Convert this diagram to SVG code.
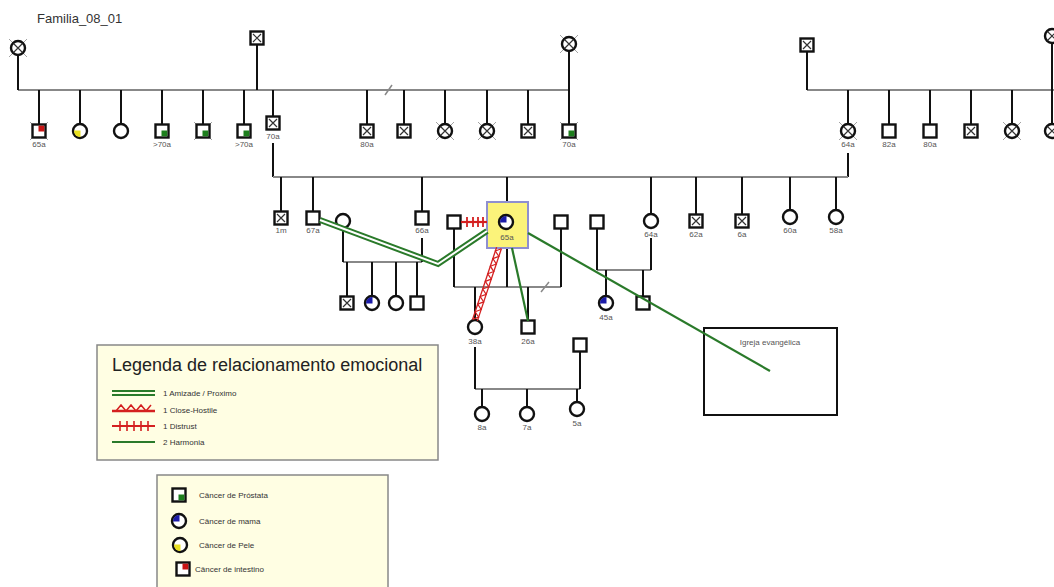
<svg xmlns="http://www.w3.org/2000/svg" xmlns:xlink="http://www.w3.org/1999/xlink" width="1054" height="587" viewBox="0 0 1054 587">
<style>
.sh{fill:#fff;stroke:#111;stroke-width:2.4}
.xx{stroke:#333;stroke-width:1.2;fill:none}
.dec{stroke:#999;stroke-width:0.9;fill:none}
.h{stroke:#888;stroke-width:2;fill:none}
.v{stroke:#111;stroke-width:2;fill:none}
.lb{font-family:"Liberation Sans",Arial,sans-serif;font-size:8px;fill:#555;text-anchor:middle}
.lt{font-family:"Liberation Sans",Arial,sans-serif;font-size:8px;fill:#333}
.gr1{stroke:#2a7a2a;stroke-width:2.2;fill:none}
.red{stroke:#d42020;fill:none}
</style>
<defs>
<g id="sq"><rect x="-6.5" y="-6.5" width="13" height="13" class="sh"/></g>
<g id="sqx"><rect x="-6.5" y="-6.5" width="13" height="13" class="sh"/><path d="M-4,-4L4,4M4,-4L-4,4" class="xx"/></g>
<g id="ci"><circle r="7" class="sh"/></g>
<g id="cix"><circle r="7" class="sh"/><path d="M-4.5,-4.5L4.5,4.5M4.5,-4.5L-4.5,4.5" class="xx"/></g>
<path id="dec" d="M-9,-9L9,9M9,-9L-9,9" class="dec"/>
<g id="sqg"><rect x="-6.5" y="-6.5" width="13" height="13" class="sh"/><rect x="-0.5" y="-0.5" width="5.8" height="5.8" fill="#1d7f1d"/></g>
<g id="sqr"><rect x="-6.5" y="-6.5" width="13" height="13" class="sh"/><rect x="-0.5" y="-5.3" width="5.8" height="5.8" fill="#c81414"/></g>
<g id="cib"><circle r="7" class="sh"/><path d="M0.5,0.5L-6,0.5A6,6 0 0 1 0.5,-6Z" fill="#1b1ba8"/></g>
<g id="ciy"><circle r="7" class="sh"/><path d="M0.5,-0.5L0.5,6A6,6 0 0 1 -6,-0.5Z" fill="#e8e020"/></g>
</defs>
<rect width="1054" height="587" fill="#fff"/>
<text x="37" y="23" font-family="'Liberation Sans',Arial,sans-serif" font-size="13" fill="#333">Familia_08_01</text>

<g id="connectors">
<path class="h" d="M18,90H569M807,90H1054"/>
<path d="M385,95L392,85" stroke="#888" stroke-width="1.5"/>
<path class="v" d="M18,55V90M257,45V90M569,51V124M807,52V90M1052,43V124"/>
<path class="v" d="M39,90V124M80,90V124M121,90V124M162,90V124M203,90V124M244,90V124M273,90V116M273,143V177M367,90V124M404,90V124M445,90V124M487,90V124M528,90V124"/>
<path class="v" d="M848,90V124M848,153V177M889,90V124M930,90V124M971,90V124M1012,90V124"/>
<path class="h" d="M273,177H848"/>
<path class="v" d="M281,177V211M313,177V211M422,177V211M507,177V202M651,177V214M696,177V214M742,177V214M790,177V210M836,177V210"/>
<path class="h" d="M343,262H422"/>
<path class="v" d="M343,228V262M422,238V262M347,262V296M372,262V296M396,262V296M417,262V296"/>
<path class="h" d="M454,287H561"/>
<path d="M541,292L549,282" stroke="#888" stroke-width="1.5"/>
<path class="v" d="M454,229V287M561,229V287M507,248V287M475,287V320M528,287V320"/>
<path class="h" d="M597,270H651"/>
<path class="v" d="M597,229V270M651,238V270M606,270V296M643,270V296"/>
<path class="h" d="M475,389H580"/>
<path class="v" d="M475,347V389M580,352V389M482,389V407M527,389V407M577,389V402"/>
</g>

<g id="gen1">
<g id="n_gm1"><use href="#dec" x="18" y="48"/><use href="#cix" x="18" y="48"/></g>
<g id="n_gf1"><use href="#sqx" x="257" y="38"/></g>
<g id="n_gm2"><use href="#dec" x="569" y="44"/><use href="#cix" x="569" y="44"/></g>
<g id="n_gf2"><use href="#sqx" x="807" y="45"/></g>
<g id="n_gm3"><use href="#cix" x="1052" y="36"/></g>
</g>

<g id="gen1children">
<g id="n_a1"><use href="#dec" x="39" y="131"/><use href="#sqr" x="39" y="131"/><text class="lb" x="39" y="147">65a</text></g>
<g id="n_a2"><use href="#ciy" x="80" y="131"/></g>
<g id="n_a3"><use href="#ci" x="121" y="131"/></g>
<g id="n_a4"><use href="#sqg" x="162" y="131"/><text class="lb" x="162" y="147">&gt;70a</text></g>
<g id="n_a5"><use href="#dec" x="203" y="131"/><use href="#sqg" x="203" y="131"/></g>
<g id="n_a6"><use href="#sqg" x="244" y="131"/><text class="lb" x="244" y="147">&gt;70a</text></g>
<g id="n_a7"><use href="#sqx" x="273" y="123"/><text class="lb" x="273" y="139">70a</text></g>
<g id="n_b1"><use href="#sqx" x="367" y="131"/><text class="lb" x="367" y="147">80a</text></g>
<g id="n_b2"><use href="#sqx" x="404" y="131"/></g>
<g id="n_b3"><use href="#dec" x="445" y="131"/><use href="#cix" x="445" y="131"/></g>
<g id="n_b4"><use href="#dec" x="487" y="131"/><use href="#cix" x="487" y="131"/></g>
<g id="n_b5"><use href="#sqx" x="528" y="131"/></g>
<g id="n_b6"><use href="#dec" x="569" y="131"/><use href="#sqg" x="569" y="131"/><text class="lb" x="569" y="147">70a</text></g>
<g id="n_c1"><use href="#dec" x="848" y="131"/><use href="#cix" x="848" y="131"/><text class="lb" x="848" y="147">64a</text></g>
<g id="n_c2"><use href="#sq" x="889" y="131"/><text class="lb" x="889" y="147">82a</text></g>
<g id="n_c3"><use href="#sq" x="930" y="131"/><text class="lb" x="930" y="147">80a</text></g>
<g id="n_c4"><use href="#sqx" x="971" y="131"/></g>
<g id="n_c5"><use href="#dec" x="1012" y="131"/><use href="#cix" x="1012" y="131"/></g>
<g id="n_c6"><use href="#cix" x="1052" y="131"/></g>
</g>

<g id="gen2">
<g id="n_d1"><use href="#sqx" x="281" y="218"/><text class="lb" x="281" y="233">1m</text></g>
<g id="n_d2"><use href="#sq" x="313" y="218"/><text class="lb" x="313" y="233">67a</text></g>
<g id="n_d2w"><use href="#ci" x="343" y="221"/></g>
<g id="n_d3"><use href="#sq" x="422" y="218"/><text class="lb" x="422" y="233">66a</text></g>
<g id="n_h1"><use href="#sq" x="454" y="222"/></g>
<g id="n_index"><rect x="487" y="202" width="41" height="46" fill="#fbf37a" stroke="#8f8fd0" stroke-width="2"/><use href="#cib" x="506" y="222"/><text class="lb" x="507" y="240" fill="#444">65a</text></g>
<g id="n_h2"><use href="#sq" x="561" y="222"/></g>
<g id="n_h3"><use href="#sq" x="597" y="222"/></g>
<g id="n_d5"><use href="#ci" x="651" y="221"/><text class="lb" x="651" y="237">64a</text></g>
<g id="n_d6"><use href="#sqx" x="696" y="221"/><text class="lb" x="696" y="237">62a</text></g>
<g id="n_d7"><use href="#sqx" x="742" y="221"/><text class="lb" x="742" y="237">6a</text></g>
<g id="n_d8"><use href="#ci" x="790" y="217"/><text class="lb" x="790" y="233">60a</text></g>
<g id="n_d9"><use href="#ci" x="836" y="217"/><text class="lb" x="836" y="233">58a</text></g>
</g>

<g id="gen3">
<g id="n_e1"><use href="#sqx" x="347" y="303"/></g>
<g id="n_e2"><use href="#cib" x="372" y="303"/></g>
<g id="n_e3"><use href="#ci" x="396" y="303"/></g>
<g id="n_e4"><use href="#sq" x="417" y="303"/></g>
<g id="n_f1"><use href="#ci" x="475" y="327"/><text class="lb" x="475" y="344">38a</text></g>
<g id="n_f2"><use href="#sq" x="528" y="327"/><text class="lb" x="528" y="344">26a</text></g>
<g id="n_g1"><use href="#cib" x="606" y="303"/><text class="lb" x="606" y="320">45a</text></g>
<g id="n_g2"><use href="#sq" x="643" y="303"/></g>
<g id="n_f1h"><use href="#sq" x="580" y="345"/></g>
</g>

<g id="gen4">
<g id="n_k1"><use href="#ci" x="482" y="414"/><text class="lb" x="482" y="430">8a</text></g>
<g id="n_k2"><use href="#ci" x="527" y="414"/><text class="lb" x="527" y="430">7a</text></g>
<g id="n_k3"><use href="#ci" x="577" y="409"/><text class="lb" x="577" y="426">5a</text></g>
</g>

<g id="n_igreja"><rect x="704" y="328" width="133" height="87" fill="#fff" stroke="#111" stroke-width="2"/><text class="lb" x="770" y="345" fill="#333">Igreja evangélica</text></g>

<g id="relations">
<path d="M320,220L438,264L487,231" stroke="#2a7a2a" stroke-width="6" fill="none"/>
<path d="M320,220L438,264L487,231" stroke="#fff" stroke-width="2" fill="none"/>
<path d="M461,222H487" class="red" stroke-width="2.2"/>
<path d="M467,217V227M473,217V227M478,217V227M483,217V227" class="red" stroke-width="1.8"/>
<g transform="translate(499,248) rotate(108.4)">
<path d="M0,-2.5H76M0,2.5H76" class="red" stroke-width="1.3"/>
<polyline points="0,-2.5 4,2.5 8,-2.5 12,2.5 16,-2.5 20,2.5 24,-2.5 28,2.5 32,-2.5 36,2.5 40,-2.5 44,2.5 48,-2.5 52,2.5 56,-2.5 60,2.5 64,-2.5 68,2.5 72,-2.5 76,2.5" class="red" stroke-width="1.2"/>
</g>
<path d="M512,248L528,321" class="gr1"/>
<path d="M528,233L770,371" class="gr1"/>
</g>

<g id="legend_rel">
<rect x="97" y="345" width="341" height="115" fill="#fffee3" stroke="#888" stroke-width="1.5"/>
<text x="112" y="371" font-family="'Liberation Sans',Arial,sans-serif" font-size="18" fill="#222">Legenda de relacionamento emocional</text>
<path d="M112,393H155" stroke="#2a7a2a" stroke-width="6"/><path d="M112,393H155" stroke="#fffee3" stroke-width="2"/>
<text class="lt" x="163" y="396">1 Amizade / Proximo</text>
<path d="M112,411H155" class="red" stroke-width="2.5"/>
<polyline points="116,411 121,405 126,411 131,405 136,411 141,405 146,411 151,405" class="red" stroke-width="1.5"/>
<text class="lt" x="163" y="413">1 Close-Hostile</text>
<path d="M112,426H155" class="red" stroke-width="2"/>
<path d="M120,421V431M127,421V431M134,421V431M141,421V431M148,421V431" class="red" stroke-width="1.6"/>
<text class="lt" x="163" y="429">1 Distrust</text>
<path d="M112,442H155" class="gr1"/>
<text class="lt" x="163" y="445">2 Harmonia</text>
</g>

<g id="legend_cancer">
<rect x="157" y="475" width="231" height="120" fill="#fffee3" stroke="#888" stroke-width="1.5"/>
<use href="#sqg" x="179" y="495"/>
<text class="lt" x="199" y="498">Câncer de Próstata</text>
<use href="#cib" x="179" y="521"/>
<text class="lt" x="199" y="524">Câncer de mama</text>
<use href="#ciy" x="180" y="545"/>
<text class="lt" x="199" y="548">Câncer de Pele</text>
<use href="#sqr" x="183" y="569"/>
<text class="lt" x="195" y="572">Câncer de intestino</text>
</g>
</svg>
